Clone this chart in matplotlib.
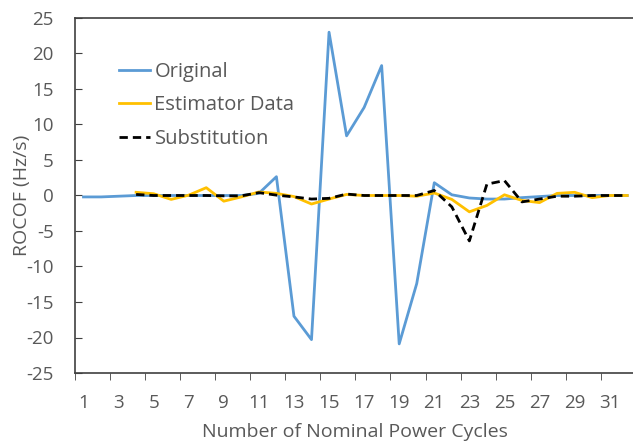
import matplotlib
matplotlib.use('Agg')
import matplotlib.pyplot as plt
import numpy as np

cycles = np.arange(1, 33)
original = [-0.2, -0.2, -0.1, 0.0, 0.0, 0.0, 0.0, 0.0, 0.0, 0.0, 0.3, 2.65,
            -17.0, -20.3, 23.0, 8.4, 12.4, 18.3, -20.9, -12.4, 1.8, 0.1,
            -0.35, -0.5, -0.5, -0.3, -0.15, 0.0, 0.0, 0.0, 0.0, 0.0]
estimator = [np.nan, np.nan, np.nan, 0.45, 0.25, -0.55, 0.05, 1.1, -0.8, -0.2,
             0.5, 0.3, -0.15, -1.2, -0.5, 0.15, 0.0, 0.0, 0.0, -0.1, 0.35,
             -0.55, -2.3, -1.4, 0.1, -0.7, -1.0, 0.3, 0.45, -0.3, 0.0, 0.0]
substitution = [np.nan, np.nan, np.nan, 0.15, 0.0, 0.0, 0.0, 0.0, -0.05, -0.05,
                0.4, 0.05, -0.2, -0.5, -0.4, 0.2, 0.0, 0.0, 0.0, 0.0, 0.7,
                -1.6, -6.4, 1.6, 2.1, -0.9, -0.5, -0.1, -0.1, 0.0, 0.0, 0.0]

txt = '#595959'
plt.rcParams['font.family'] = ['Open Sans', 'DejaVu Sans']
plt.rcParams['axes.unicode_minus'] = False

fig = plt.figure(figsize=(6.33, 4.41), dpi=100)
W, H = 633, 441
ax = fig.add_axes([74.7 / W, 1 - 373 / H, (636 - 74.7) / W, (373 - 18) / H])

ax.plot(cycles, original, color='#5B9BD5', lw=2, label='Original')
ax.plot(cycles, estimator, color='#FFC000', lw=2, label='Estimator Data')
ax.plot(cycles, substitution, color='black', lw=2, ls=(0, (3, 1.8)), label='Substitution')

ax.set_xlim(0.5, 32.5)
ax.set_ylim(-25, 25)
ax.set_yticks(np.arange(-25, 26, 5))
ax.set_xticks(np.arange(1, 32, 2))
ax.set_xticks(np.arange(0.5, 33, 2), minor=True)
ax.tick_params(axis='x', which='major', length=0, pad=15, labelsize=13.5, labelcolor=txt)
ax.tick_params(axis='x', which='minor', length=5, direction='out', color='#404040')
ax.tick_params(axis='y', length=5, direction='in', pad=15, labelsize=13.5, labelcolor=txt, color='#404040')

for s in ['left', 'bottom', 'top']:
    ax.spines[s].set_color('#404040')
    ax.spines[s].set_linewidth(1.2)
ax.spines['right'].set_visible(False)

ax.set_xlabel('Number of Nominal Power Cycles', color=txt, fontsize=14, labelpad=8)
ax.set_ylabel('ROCOF (Hz/s)', color=txt, fontsize=14, labelpad=-3)

leg = ax.legend(loc='upper left', bbox_to_anchor=(0.065, 0.9), frameon=False, fontsize=14.5,
                handlelength=1.55, handletextpad=0.2, labelspacing=0.68, labelcolor=txt,
                borderaxespad=0)

fig.savefig('out.png', dpi=100)
